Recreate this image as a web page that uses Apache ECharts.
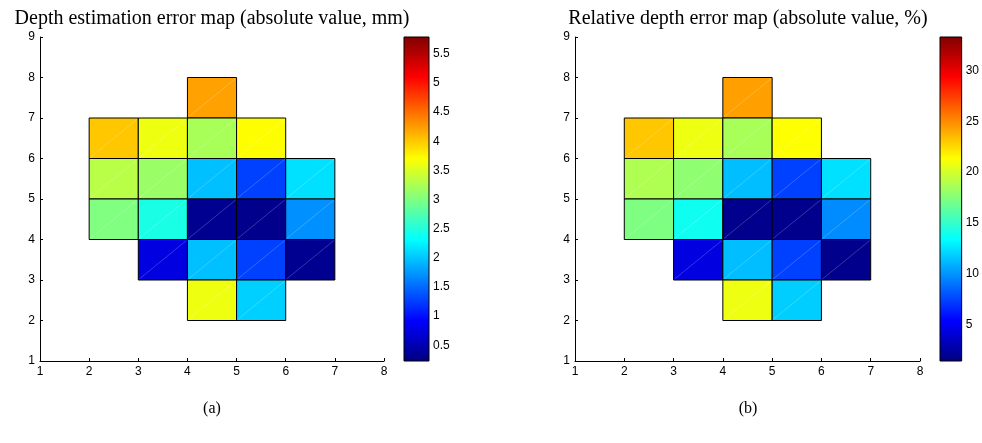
<!DOCTYPE html>
<html><head><meta charset="utf-8">
<script src="https://cdn.jsdelivr.net/npm/echarts@6/dist/echarts.min.js"></script>
<style>html,body{margin:0;padding:0;background:#fff}#c{width:982px;height:443px}</style>
</head><body><div id="c"></div>
<script>
// Lower-left corners of the grid cells
const cellX = [4, 2, 3, 4, 5, 2, 3, 4, 5, 6, 2, 3, 4, 5, 6, 3, 4, 5, 6, 4, 5];
const cellY = [7, 6, 6, 6, 6, 5, 5, 5, 5, 5, 4, 4, 4, 4, 4, 3, 3, 3, 3, 2, 2];
// Depth estimation error (mm)
const depthErr = [4.22, 4.01, 3.62, 3.23, 3.71, 3.32, 3.15, 1.97, 1.27, 2.15, 3.01, 2.45, 0.32, 0.30, 1.71, 0.76, 1.97, 1.27, 0.32, 3.62, 2.06];
// Relative depth error (%)
const relErr = [24.3, 23.1, 20.8, 18.6, 21.3, 18.8, 17.8, 11.3, 7.36, 12.4, 17.3, 13.8, 1.78, 1.80, 9.7, 4.4, 11.3, 7.36, 1.80, 20.8, 11.8];
// Colour ranges and colourbar ticks
const depthRange = [0.23, 5.79];
const relRange = [1.38, 33.3];
const depthTicks = [0.5, 1, 1.5, 2, 2.5, 3, 3.5, 4, 4.5, 5, 5.5];
const relTicks = [5, 10, 15, 20, 25, 30];
const axisXTicks = [1, 2, 3, 4, 5, 6, 7, 8];
const axisYTicks = [1, 2, 3, 4, 5, 6, 7, 8, 9];
const titles = ['Depth estimation error map (absolute value, mm)', 'Relative depth error map (absolute value, %)'];
const captions = ['(a)', '(b)'];

const jet = ['#000080', '#0000FF', '#0080FF', '#00FFFF', '#80FF80', '#FFFF00', '#FF8000', '#FF0000', '#800000'];
const SANS = 'Liberation Sans, Arial, sans-serif';
const SERIF = 'Liberation Serif, Times New Roman, serif';

const chart = echarts.init(document.getElementById('c'));

const grids = [
  {left: 40, top: 37, width: 344, height: 324},
  {left: 404, top: 37, width: 25, height: 324},
  {left: 575, top: 37, width: 345, height: 324},
  {left: 940, top: 37, width: 25, height: 324}
];

function mainX(gi) {
  return {type: 'value', gridIndex: gi, min: axisXTicks[0], max: axisXTicks[axisXTicks.length - 1], interval: 1,
    axisLine: {show: true, onZero: false, lineStyle: {color: '#000', width: 1}},
    axisTick: {show: true, inside: true, length: 3, lineStyle: {color: '#000'}},
    axisLabel: {color: '#000', fontFamily: SANS, fontSize: 12, margin: 5},
    splitLine: {show: false}};
}
function mainY(gi) {
  return {type: 'value', gridIndex: gi, min: axisYTicks[0], max: axisYTicks[axisYTicks.length - 1], interval: 1,
    axisLine: {show: true, onZero: false, lineStyle: {color: '#000', width: 1}},
    axisTick: {show: true, inside: true, length: 3, lineStyle: {color: '#000'}},
    axisLabel: {color: '#000', fontFamily: SANS, fontSize: 12, margin: 5},
    splitLine: {show: false}};
}
function cbX(gi) {
  return {type: 'value', gridIndex: gi, min: 0, max: 1, show: false};
}
function cbY(gi, range, ticks, pos, labels) {
  return {type: 'value', gridIndex: gi, min: range[0], max: range[1], position: pos,
    axisLine: {show: false},
    axisTick: {show: true, inside: true, length: 3, lineStyle: {color: '#000'}, customValues: ticks},
    axisLabel: {show: labels, color: '#000', fontFamily: SANS, fontSize: 12, margin: 4, customValues: ticks},
    splitLine: {show: false}};
}

function cellData(vals) {
  return vals.map((v, i) => [cellX[i], cellY[i], v]);
}

function renderCell(params, api) {
  const x = api.value(0), y = api.value(1);
  const p0 = api.coord([x, y]);
  const p1 = api.coord([x + 1, y + 1]);
  return {type: 'group', children: [
    {type: 'rect', shape: {x: p0[0], y: p1[1], width: p1[0] - p0[0], height: p0[1] - p1[1]},
      style: {fill: api.visual('color'), stroke: '#000', lineWidth: 1}},
    {type: 'line', shape: {x1: p0[0] + 1, y1: p0[1] - 1, x2: p1[0] - 1, y2: p1[1] + 1},
      style: {stroke: 'rgba(255,255,255,0.35)', lineWidth: 0.6}}
  ]};
}

function renderBar(params, api) {
  const p0 = api.coord([0, api.value(0)]);
  const p1 = api.coord([1, api.value(1)]);
  return {type: 'rect', shape: {x: p0[0], y: p1[1], width: p1[0] - p0[0], height: p0[1] - p1[1]},
    style: {fill: {type: 'linear', x: 0, y: 1, x2: 0, y2: 0,
      colorStops: jet.map((c, i) => ({offset: i / (jet.length - 1), color: c}))},
      stroke: '#000', lineWidth: 1}};
}

chart.setOption({
  animation: false,
  backgroundColor: '#fff',
  grid: grids,
  xAxis: [mainX(0), cbX(1), mainX(2), cbX(3)],
  yAxis: [mainY(0), cbY(1, depthRange, depthTicks, 'left', false), cbY(1, depthRange, depthTicks, 'right', true),
          mainY(2), cbY(3, relRange, relTicks, 'left', false), cbY(3, relRange, relTicks, 'right', true)],
  visualMap: [
    {show: false, type: 'continuous', seriesIndex: 0, dimension: 2, min: depthRange[0], max: depthRange[1], inRange: {color: jet}},
    {show: false, type: 'continuous', seriesIndex: 2, dimension: 2, min: relRange[0], max: relRange[1], inRange: {color: jet}}
  ],
  series: [
    {type: 'custom', xAxisIndex: 0, yAxisIndex: 0, renderItem: renderCell, data: cellData(depthErr), encode: {x: 0, y: 1}},
    {type: 'custom', xAxisIndex: 1, yAxisIndex: 1, renderItem: renderBar, data: [depthRange], encode: {y: [0, 1]}},
    {type: 'custom', xAxisIndex: 2, yAxisIndex: 3, renderItem: renderCell, data: cellData(relErr), encode: {x: 0, y: 1}},
    {type: 'custom', xAxisIndex: 3, yAxisIndex: 4, renderItem: renderBar, data: [relRange], encode: {y: [0, 1]}}
  ],
  graphic: [
    {type: 'text', x: 212, y: 9, style: {text: titles[0], font: '20px ' + SERIF, fill: '#000', textAlign: 'center', textVerticalAlign: 'top'}},
    {type: 'text', x: 748, y: 9, style: {text: titles[1], font: '20px ' + SERIF, fill: '#000', textAlign: 'center', textVerticalAlign: 'top'}},
    {type: 'text', x: 212, y: 401, style: {text: captions[0], font: '16px ' + SERIF, fill: '#000', textAlign: 'center', textVerticalAlign: 'top'}},
    {type: 'text', x: 748, y: 401, style: {text: captions[1], font: '16px ' + SERIF, fill: '#000', textAlign: 'center', textVerticalAlign: 'top'}}
  ]
});
</script>
</body></html>
